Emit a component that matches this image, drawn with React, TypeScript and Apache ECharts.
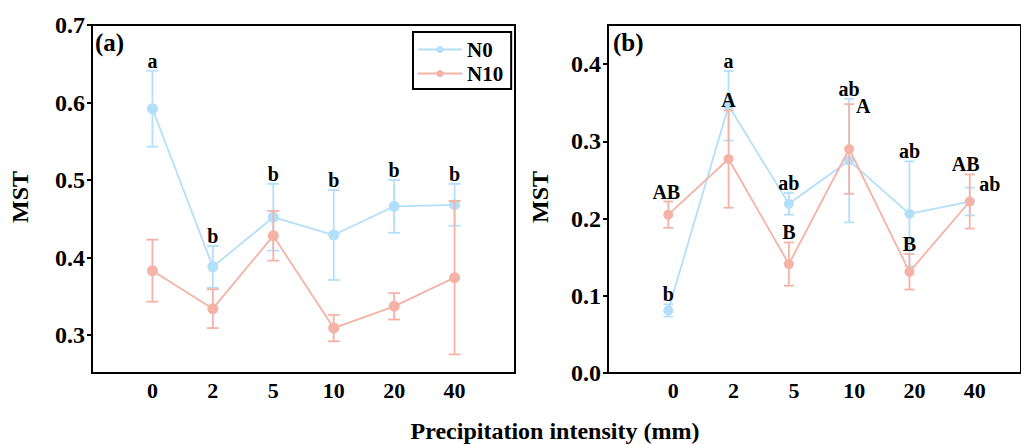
import React, { useEffect, useRef } from 'react';
import * as echarts from 'echarts';

// ---------- data ----------
const categories = ['0', '2', '5', '10', '20', '40'];

// Panel (a)
const aN0Mean = [0.592, 0.388, 0.452, 0.429, 0.466, 0.468];
const aN0Err = [0.049, 0.027, 0.043, 0.058, 0.034, 0.027];
const aN10Mean = [0.383, 0.334, 0.428, 0.309, 0.337, 0.374];
const aN10Err = [0.040, 0.025, 0.032, 0.017, 0.017, 0.099];
const aN0Letters = ['a', 'b', 'b', 'b', 'b', 'b'];

// Panel (b)
const bN0Mean = [0.081, 0.346, 0.219, 0.275, 0.206, 0.222];
const bN0Err = [0.008, 0.045, 0.014, 0.080, 0.068, 0.018];
const bN10Mean = [0.205, 0.277, 0.141, 0.290, 0.131, 0.222];
const bN10Err = [0.017, 0.063, 0.028, 0.058, 0.023, 0.035];
const bN0Letters = ['b', 'a', 'ab', 'ab', 'ab', 'ab'];
const bN10Letters = ['AB', 'A', 'B', 'A', 'B', 'AB'];

const aYTicks = [0.3, 0.4, 0.5, 0.6, 0.7];
const bYTicks = [0.0, 0.1, 0.2, 0.3, 0.4];
const xTicks = [0, 1, 2, 3, 4, 5];

// ---------- style ----------
const FONT = '"Liberation Serif", "Times New Roman", serif';
const BLUE = '#b3dffa';
const RED = '#f4b3a6';
const BLACK = '#000';

// letter pixel shifts (style only): [dx, dy, verticalAlign]
const bN0Shift: [number, number, string][] = [
  [0, 0, 'bottom'], [0, 0, 'bottom'], [0, 0, 'bottom'], [0, 0, 'bottom'], [0, 0, 'bottom'], [20, -4, 'middle'],
];
const bN10Shift: [number, number, string][] = [
  [-2, 0, 'bottom'], [0, 0, 'bottom'], [0, 0, 'bottom'], [14, 2, 'middle'], [0, 0, 'bottom'], [-4, 0, 'bottom'],
];
const aN0Shift: [number, number, string][] = xTicks.map(() => [0, 0, 'bottom']);

function errRender(cap: number) {
  return (params: any, api: any) => {
    const x = api.value(0);
    const lo = api.coord([x, api.value(1)]);
    const hi = api.coord([x, api.value(2)]);
    const style = { stroke: api.visual('color'), lineWidth: 1.8 };
    return {
      type: 'group',
      children: [
        { type: 'line', shape: { x1: hi[0], y1: hi[1], x2: lo[0], y2: lo[1] }, style },
        { type: 'line', shape: { x1: hi[0] - cap, y1: hi[1], x2: hi[0] + cap, y2: hi[1] }, style },
        { type: 'line', shape: { x1: lo[0] - cap, y1: lo[1], x2: lo[0] + cap, y2: lo[1] }, style },
      ],
    };
  };
}

function letterRender(letters: string[], shifts: [number, number, string][]) {
  return (params: any, api: any) => {
    const i = params.dataIndex;
    const p = api.coord([api.value(0), api.value(1)]);
    const s = shifts[i];
    return {
      type: 'text',
      x: p[0] + s[0],
      y: p[1] + s[1],
      style: {
        text: letters[i],
        fill: BLACK,
        font: `bold 20px ${FONT}`,
        align: 'center',
        verticalAlign: s[2],
      },
    };
  };
}

function errData(mean: number[], err: number[]) {
  return mean.map((m, i) => [i, m - err[i], m + err[i]]);
}
function topData(mean: number[], err: number[]) {
  return mean.map((m, i) => [i, m + err[i]]);
}

function xAxisCfg(gridIndex: number, min: number, max: number, pad: number) {
  return {
    gridIndex,
    type: 'value',
    min,
    max,
    axisLine: { show: true, onZero: false, lineStyle: { color: BLACK, width: 2 } },
    axisTick: { show: false },
    splitLine: { show: false },
    axisLabel: {
      customValues: xTicks,
      formatter: (v: number) => categories[Math.round(v)] ?? '',
      fontSize: 22,
      fontWeight: 'bold',
      fontFamily: FONT,
      color: BLACK,
      margin: 6,
      padding: [0, 0, 0, pad],
    },
  };
}

function yAxisCfg(gridIndex: number, min: number, max: number, ticks: number[]) {
  return {
    gridIndex,
    type: 'value',
    min,
    max,
    axisLine: { show: true, onZero: false, lineStyle: { color: BLACK, width: 2 } },
    axisTick: { show: true, customValues: ticks, length: 5, lineStyle: { color: BLACK, width: 2 } },
    splitLine: { show: false },
    axisLabel: {
      customValues: ticks,
      formatter: (v: number) => v.toFixed(1),
      fontSize: 24,
      fontWeight: 'bold',
      fontFamily: FONT,
      color: BLACK,
      margin: 7,
    },
  };
}

function lineSeries(name: string, mean: number[], color: string, gi: number, size: number, z: number) {
  return {
    name,
    type: 'line',
    xAxisIndex: gi,
    yAxisIndex: gi,
    data: mean.map((m, i) => [i, m]),
    symbol: 'circle',
    symbolSize: size,
    color,
    itemStyle: { color },
    lineStyle: { color, width: 1.8 },
    z,
  };
}

function errSeries(name: string, mean: number[], err: number[], color: string, gi: number, cap: number, z: number) {
  return {
    name,
    type: 'custom',
    xAxisIndex: gi,
    yAxisIndex: gi,
    data: errData(mean, err),
    renderItem: errRender(cap),
    itemStyle: { color },
    encode: { x: 0, y: [1, 2] },
    z,
  };
}

function letterSeries(name: string, mean: number[], err: number[], letters: string[], shifts: [number, number, string][], gi: number) {
  return {
    name,
    type: 'custom',
    xAxisIndex: gi,
    yAxisIndex: gi,
    data: topData(mean, err),
    renderItem: letterRender(letters, shifts),
    encode: { x: 0, y: 1 },
    z: 20,
  };
}

export default function App() {
  const ref = useRef<HTMLDivElement>(null);

  useEffect(() => {
    if (!ref.current) return;
    const chart = echarts.init(ref.current, undefined, { renderer: 'svg' });
    const option: any = {
      animation: false,
      backgroundColor: '#fff',
      textStyle: { fontFamily: FONT },
      grid: [
        { left: 92, top: 25, width: 423, height: 348, show: true, borderColor: BLACK, borderWidth: 2, backgroundColor: 'transparent' },
        { left: 608, top: 25, width: 415, height: 348, show: true, borderColor: BLACK, borderWidth: 2, backgroundColor: 'transparent' },
      ],
      xAxis: [xAxisCfg(0, -1, 6, 0), xAxisCfg(1, -1, 5.85, 10)],
      yAxis: [yAxisCfg(0, 0.251, 0.7, aYTicks), yAxisCfg(1, 0, 0.4505, bYTicks)],
      legend: {
        data: ['N0', 'N10'],
        left: 413,
        top: 32,
        orient: 'vertical',
        borderColor: BLACK,
        borderWidth: 2,
        padding: [7, 8, 5, 4],
        itemGap: 3,
        itemWidth: 44,
        itemHeight: 9,
        textStyle: { fontSize: 21, fontWeight: 'bold', fontFamily: FONT, color: BLACK },
      },
      graphic: [
        { type: 'text', left: 95, top: 30, style: { text: '(a)', font: `bold 25px ${FONT}`, fill: BLACK } },
        { type: 'text', left: 613, top: 30, style: { text: '(b)', font: `bold 25px ${FONT}`, fill: BLACK } },
        { type: 'text', x: 20, y: 197, rotation: Math.PI / 2, style: { text: 'MST', font: `bold 24px ${FONT}`, fill: BLACK, align: 'center', verticalAlign: 'middle' } },
        { type: 'text', x: 540, y: 197, rotation: Math.PI / 2, style: { text: 'MST', font: `bold 24px ${FONT}`, fill: BLACK, align: 'center', verticalAlign: 'middle' } },
        { type: 'text', x: 555, y: 431, style: { text: 'Precipitation intensity (mm)', font: `bold 24px ${FONT}`, fill: BLACK, align: 'center', verticalAlign: 'middle' } },
      ],
      series: [
        errSeries('N0 err a', aN0Mean, aN0Err, BLUE, 0, 6, 2),
        lineSeries('N0', aN0Mean, BLUE, 0, 11, 3),
        errSeries('N10 err a', aN10Mean, aN10Err, RED, 0, 6, 4),
        lineSeries('N10', aN10Mean, RED, 0, 11, 5),
        letterSeries('letters a', aN0Mean, aN0Err, aN0Letters, aN0Shift, 0),

        errSeries('N0 err b', bN0Mean, bN0Err, BLUE, 1, 5, 2),
        lineSeries('N0', bN0Mean, BLUE, 1, 10, 3),
        errSeries('N10 err b', bN10Mean, bN10Err, RED, 1, 5, 4),
        lineSeries('N10', bN10Mean, RED, 1, 10, 5),
        letterSeries('letters b0', bN0Mean, bN0Err, bN0Letters, bN0Shift, 1),
        letterSeries('letters b10', bN10Mean, bN10Err, bN10Letters, bN10Shift, 1),
      ],
    };
    chart.setOption(option);
    return () => chart.dispose();
  }, []);

  return <div ref={ref} style={{ position: 'fixed', left: 0, top: 0, width: 1021, height: 444 }} />;
}
